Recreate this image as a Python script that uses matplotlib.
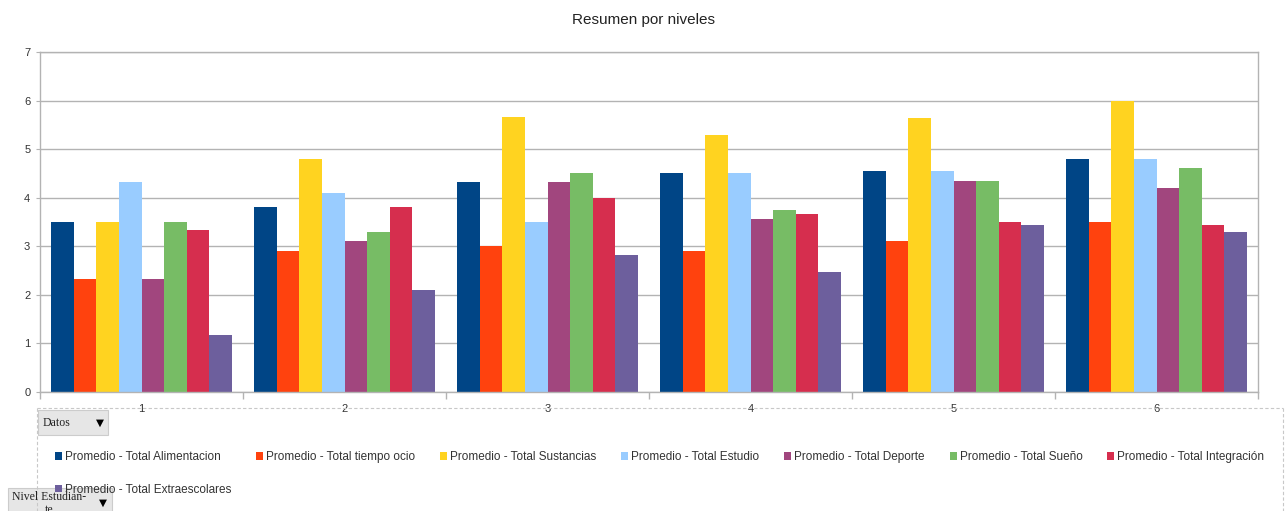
#!/usr/bin/env python3

import numpy as np
import matplotlib
matplotlib.use('Agg')
import matplotlib.pyplot as plt
from matplotlib.patches import Rectangle, Patch
from matplotlib.lines import Line2D

plt.rcParams['font.family'] = ['Liberation Sans', 'DejaVu Sans']

# Data
niveles = ['1', '2', '3', '4', '5', '6']
series = ['Promedio - Total Alimentacion', 'Promedio - Total tiempo ocio',
          'Promedio - Total Sustancias', 'Promedio - Total Estudio',
          'Promedio - Total Deporte', 'Promedio - Total Sueño',
          'Promedio - Total Integración', 'Promedio - Total Extraescolares']
alimentacion = [3.5, 3.8, 4.33, 4.5, 4.55, 4.8]
tiempo_ocio = [2.33, 2.9, 3.0, 2.9, 3.1, 3.5]
sustancias = [3.5, 4.8, 5.67, 5.3, 5.64, 6.0]
estudio = [4.33, 4.1, 3.5, 4.5, 4.55, 4.8]
deporte = [2.33, 3.1, 4.33, 3.57, 4.35, 4.19]
sueno = [3.5, 3.3, 4.5, 3.75, 4.35, 4.62]
integracion = [3.33, 3.8, 4.0, 3.67, 3.5, 3.43]
extraescolares = [1.17, 2.1, 2.83, 2.48, 3.44, 3.3]
values = [alimentacion, tiempo_ocio, sustancias, estudio,
          deporte, sueno, integracion, extraescolares]
colors = ['#004586', '#ff420e', '#ffd320', '#99ccff',
          '#a1467e', '#77bc65', '#d62e4e', '#6d5f9d']

# Layout in pixels
W, H = 1286, 511
ax_l, ax_r, ax_t, ax_b = 40, 1258, 52, 392
grid_c = '#b3b3b3'
txt_c = '#333333'


def fig_box(fig, x, y, w, h, **kw):
    # rectangle given in pixel coordinates from top-left
    r = Rectangle((x / W, 1 - (y + h) / H), w / W, h / H,
                  transform=fig.transFigure, **kw)
    fig.add_artist(r)
    return r


def main():
    fig = plt.figure(figsize=(W / 100, H / 100), dpi=100)
    ax = fig.add_axes([ax_l / W, 1 - ax_b / H, (ax_r - ax_l) / W, (ax_b - ax_t) / H])

    n = len(series)
    x = np.arange(len(niveles))
    bw = 1 / (n + 1)
    for i, (vals, c, name) in enumerate(zip(values, colors, series)):
        ax.bar(x - 0.5 + bw * (i + 1), vals, width=bw, color=c, label=name,
               align='center', zorder=2)

    ax.set_xlim(-0.5, len(niveles) - 0.5)
    ax.set_ylim(0, 7)
    ax.set_yticks(range(8))
    ax.set_xticks(x)
    ax.set_xticklabels(niveles)
    ax.set_xticks(np.arange(-0.5, len(niveles)), minor=True)
    ax.tick_params(axis='x', which='major', length=0, pad=9, labelsize=8, labelcolor=txt_c)
    ax.tick_params(axis='x', which='minor', length=5, color=grid_c, width=1)
    ax.tick_params(axis='y', length=3, color=grid_c, pad=4, labelsize=8, labelcolor=txt_c)
    ax.yaxis.grid(True, color=grid_c, lw=1, zorder=0)
    ax.set_axisbelow(True)
    for s in ax.spines.values():
        s.set_color(grid_c)
        s.set_linewidth(1)

    fig.text(0.5, 1 - 20 / H, 'Resumen por niveles', ha='center', va='center',
             fontsize=11, color='#222222')

    # Dashed legend frame
    dash = dict(color='#c8c8c8', lw=0.8, ls=(0, (3, 2)), transform=fig.transFigure)
    fig.add_artist(Line2D([37 / W, 1283 / W], [1 - 408 / H] * 2, **dash))
    fig.add_artist(Line2D([37 / W] * 2, [1 - 408 / H, 0], **dash))
    fig.add_artist(Line2D([1283 / W] * 2, [1 - 408 / H, 0], **dash))

    # Legend, filled row by row (first column holds two entries)
    handles = [Patch(facecolor=c, edgecolor='none') for c in colors]
    order = [0, 7, 1, 2, 3, 4, 5, 6]
    fig.legend([handles[i] for i in order], [series[i] for i in order],
               loc='upper left', ncol=7,
               bbox_to_anchor=(55 / W, 1 - 451 / H), frameon=False, borderpad=0,
               borderaxespad=0, fontsize=8.5, handlelength=0.6, handleheight=0.6,
               handletextpad=0.25, columnspacing=2.1, labelspacing=1.75,
               labelcolor=txt_c)

    # Pivot field buttons
    serif = ['Liberation Serif', 'DejaVu Serif']
    fig_box(fig, 38, 410, 70, 25, facecolor='#e6e6e6', edgecolor='#cccccc', lw=0.8)
    fig.text(43 / W, 1 - 423 / H, 'Datos', fontsize=8.5, family=serif,
             va='center', ha='left', color='#222222')
    fig.text(100 / W, 1 - 423 / H, '▼', fontsize=7.5, family='DejaVu Sans',
             va='center', ha='center', color='k')
    fig_box(fig, 8, 488, 104, 30, facecolor='#e6e6e6', edgecolor='#cccccc', lw=0.8)
    fig.text(12 / W, 1 - 497 / H, 'Nivel Estudian-', fontsize=8.5, family=serif,
             va='center', ha='left', color='#222222')
    fig.text(45 / W, 1 - 510 / H, 'te', fontsize=8.5, family=serif,
             va='center', ha='left', color='#222222')
    fig.text(103 / W, 1 - 503 / H, '▼', fontsize=7.5, family='DejaVu Sans',
             va='center', ha='center', color='k')

    fig.savefig('out.png', dpi=100)


if (__name__ == '__main__'):
    main()
